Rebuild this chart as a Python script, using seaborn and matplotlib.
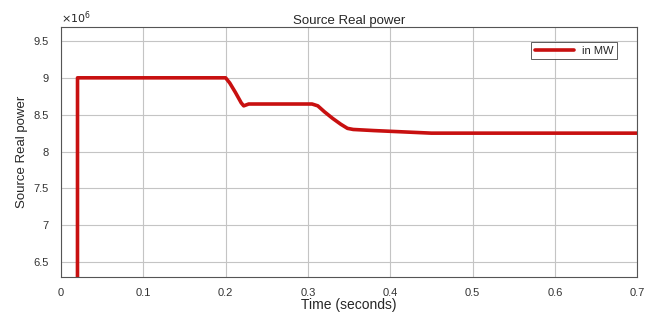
import numpy as np
import pandas as pd
import matplotlib
matplotlib.use('Agg')
import matplotlib.pyplot as plt
from matplotlib.ticker import FuncFormatter
import seaborn as sns

# source real power (x 1e6 W)
time = [0.0, 0.0199, 0.0201, 0.05, 0.10, 0.15, 0.200, 0.205, 0.212, 0.219, 0.222, 0.228, 0.25, 0.28, 0.305,
        0.312, 0.320, 0.330, 0.340, 0.348, 0.355, 0.38, 0.40, 0.43, 0.45, 0.50, 0.60, 0.70]
power = [0.0, 0.0, 9.0, 9.0, 9.0, 9.0, 9.0, 8.93, 8.80, 8.66, 8.62, 8.645, 8.645, 8.645, 8.645,
         8.62, 8.54, 8.45, 8.37, 8.315, 8.30, 8.285, 8.275, 8.26, 8.25, 8.25, 8.25, 8.25]
scale = 1e6

df = pd.DataFrame({'Time': time, 'Power': np.array(power) * scale})

sns.set_style('whitegrid', {'grid.color': '#c4c4c4', 'axes.edgecolor': '#555555'})
plt.rcParams['font.family'] = ['Liberation Sans', 'DejaVu Sans']

fig = plt.figure(figsize=(6.46, 3.13), dpi=100)
ax = fig.add_axes([0.0944, 0.115, 0.892, 0.799])

sns.lineplot(data=df, x='Time', y='Power', ax=ax, color='#c81010', lw=2.6, label='in MW')

ax.set_xlim(0, 0.7)
ax.set_ylim(6.3 * scale, 9.69 * scale)
ax.set_xticks(np.arange(0, 0.71, 0.1))
ax.set_yticks(np.arange(6.5, 9.51, 0.5) * scale)
ax.xaxis.set_major_formatter(FuncFormatter(lambda v, p: '%g' % round(v, 2)))
ax.yaxis.set_major_formatter(FuncFormatter(lambda v, p: '%g' % round(v / scale, 2)))
ax.tick_params(labelsize=8, colors='#333333', direction='in', length=3)
ax.tick_params(axis='x', pad=8)
ax.tick_params(axis='y', pad=9)
for s in ax.spines.values():
    s.set_linewidth(0.8)
ax.grid(True, lw=0.8)

ax.set_title('Source Real power', fontsize=9.5, pad=2)
ax.set_xlabel('Time (seconds)', fontsize=10, labelpad=0)
ax.set_ylabel('Source Real power', fontsize=9.5, labelpad=4)
ax.text(0.0, 1.005, r'$\times10^6$', transform=ax.transAxes, fontsize=8, va='bottom', ha='left')

leg = ax.legend(loc='upper right', fontsize=8, frameon=True, fancybox=False,
                borderpad=0.3, handlelength=3.5, bbox_to_anchor=(0.975, 0.96))
leg.get_frame().set_edgecolor('#333333')
leg.get_frame().set_linewidth(0.7)

fig.savefig('out.png', dpi=100)
